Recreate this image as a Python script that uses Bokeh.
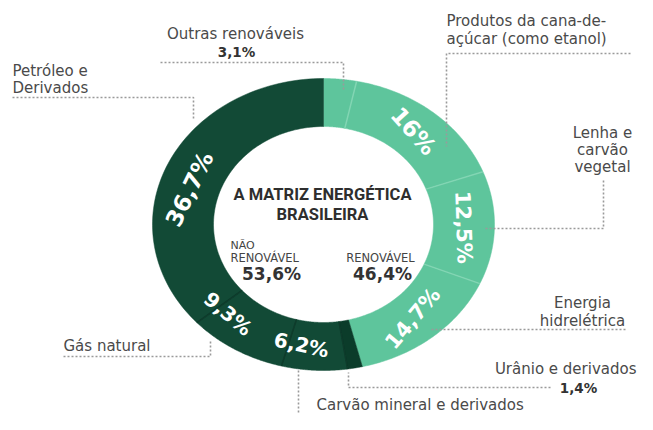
import numpy as np
from bokeh.plotting import figure
from bokeh.models import Range1d, ColumnDataSource
from bokeh.core.properties import value
from bokeh.embed import file_html
from bokeh.resources import INLINE

# ---------------- data ----------------
categories = ["Outras renováveis", "Produtos da cana-de-açúcar (como etanol)",
              "Lenha e carvão vegetal", "Energia hidrelétrica",
              "Urânio e derivados", "Carvão mineral e derivados",
              "Gás natural", "Petróleo e Derivados"]
shares = [3.1, 16.0, 12.5, 14.7, 1.4, 6.2, 9.3, 36.7]
ring_labels = ["", "16%", "12,5%", "14,7%", "", "6,2%", "9,3%", "36,7%"]
groups = ["ren", "ren", "ren", "ren", "non", "non", "non", "non"]
total_non_renewable = "53,6%"
total_renewable = "46,4%"

# ---------------- style / layout ----------------
seg_colors = ["#5ec59c", "#5ec59c", "#5ec59c", "#5ec59c",
              "#0b3c2a", "#124a36", "#124a36", "#124a36"]
sep_colors = {"ren": "#8ad8b8", "non": "#0a3526"}
label_rot_deg = [0, -48, -88, 50, 0, -12, -40, 64]
label_nudge_deg = [0, 0, 0, 0, 0, 6, 12, -7]
label_size = ["22px", "23px", "21px", "21px", "20px", "20px", "20px", "23px"]
CX, CY = 323, 224
RXO, RYO = 171, 146
RXI, RYI = 110, 98
RXM, RYM = 140, 122

W, H = 637, 414
p = figure(width=W, height=H, output_backend="svg", toolbar_location=None,
           x_range=Range1d(0, W), y_range=Range1d(H, 0),
           min_border=0, outline_line_color=None)
p.axis.visible = False
p.grid.visible = False
p.background_fill_color = "white"

# ---------------- donut (elliptical) ----------------
vals = np.array(shares, dtype=float)
bounds = np.concatenate([[0.0], np.cumsum(vals)]) / vals.sum() * 2 * np.pi
xs, ys = [], []
for a0, a1 in zip(bounds[:-1], bounds[1:]):
    t = np.linspace(a0, a1, 80)
    ox = CX + RXO * np.sin(t); oy = CY - RYO * np.cos(t)
    ix = CX + RXI * np.sin(t[::-1]); iy = CY - RYI * np.cos(t[::-1])
    xs.append(list(np.concatenate([ox, ix])))
    ys.append(list(np.concatenate([oy, iy])))
p.patches(xs, ys, fill_color=seg_colors, line_color=seg_colors, line_width=0.5)

# separators between segments (not at the top boundary)
sx0, sy0, sx1, sy1, sc = [], [], [], [], []
for k in range(1, len(vals)):
    a = bounds[k]
    if groups[k] != groups[k - 1]:
        continue
    sx0.append(CX + RXI * np.sin(a)); sy0.append(CY - RYI * np.cos(a))
    sx1.append(CX + RXO * np.sin(a)); sy1.append(CY - RYO * np.cos(a))
    sc.append(sep_colors[groups[k]])
p.segment(sx0, sy0, sx1, sy1, line_color=sc, line_width=1.5, line_alpha=0.8)

# ring labels
lx, ly, lt, la, lsz = [], [], [], [], []
for k, lab in enumerate(ring_labels):
    if not lab:
        continue
    m = (bounds[k] + bounds[k + 1]) / 2 + np.deg2rad(label_nudge_deg[k])
    lx.append(CX + RXM * np.sin(m)); ly.append(CY - RYM * np.cos(m))
    lt.append(lab); la.append(np.deg2rad(label_rot_deg[k])); lsz.append(label_size[k])
src = ColumnDataSource(dict(x=lx, y=ly, t=lt, a=la, s=lsz))
p.text("x", "y", text="t", angle="a", source=src, text_font_size="s",
       text_color="white", text_align="center", text_baseline="middle",
       text_font=value("DejaVu Sans"), text_font_style="bold")

# ---------------- center text ----------------
def txt(x, y, s, size, bold=False, align="center", color="#2e2e2e", font="DejaVu Sans"):
    p.text([x], [y], text=[s], text_font_size=size, text_align=align,
           text_baseline="middle", text_color=color, text_font=value(font),
           text_font_style="bold" if bold else "normal")

txt(322, 194, "A MATRIZ ENERGÉTICA", "16.5px", bold=True, font="Roboto")
txt(322, 214, "BRASILEIRA", "16.5px", bold=True, font="Roboto")
txt(230, 245, "NÃO", "11px", align="left", color="#444444")
txt(230, 257, "RENOVÁVEL", "11.5px", align="left", color="#444444")
txt(271, 273, total_non_renewable, "17px", bold=True, color="#333333")
txt(380, 257, "RENOVÁVEL", "11.5px", color="#444444")
txt(382, 273, total_renewable, "17px", bold=True, color="#333333")

# ---------------- outer labels ----------------
G = "#4a4a4a"
F = "15px"
txt(235, 33, categories[0], F, color=G)
txt(236, 51, "3,1%", "13.5px", bold=True, color="#333333")
txt(12, 70, "Petróleo e", F, align="left", color=G)
txt(12, 87, "Derivados", F, align="left", color=G)
txt(446, 20, "Produtos da cana-de-", F, align="left", color=G)
txt(446, 38, "açúcar (como etanol)", F, align="left", color=G)
txt(602, 132, "Lenha e", F, color=G)
txt(602, 149, "carvão", F, color=G)
txt(602, 166, "vegetal", F, color=G)
txt(582, 302, "Energia", F, color=G)
txt(582, 320, "hidrelétrica", F, color=G)
txt(636, 368, categories[4], F, align="right", color=G)
txt(578, 387, "1,4%", "13.5px", bold=True, color="#333333")
txt(63, 345, categories[6], F, align="left", color=G)
txt(316, 404, categories[5], F, align="left", color=G)

# leader lines
leaders_x = [[160, 343, 343], [12, 193, 193], [630, 446, 446], [603, 603, 483],
             [625, 430], [550, 348, 348], [63, 210, 210], [298, 298]]
leaders_y = [[62, 62, 90], [97, 97, 120], [53, 53, 146], [180, 228, 228],
             [329, 329], [387, 387, 372], [356, 356, 340], [370, 414]]
p.multi_line(leaders_x, leaders_y, line_color="#9a9a9a", line_width=1.6,
             line_dash="2 2")

open("out.html", "w").write(file_html(p, INLINE))
